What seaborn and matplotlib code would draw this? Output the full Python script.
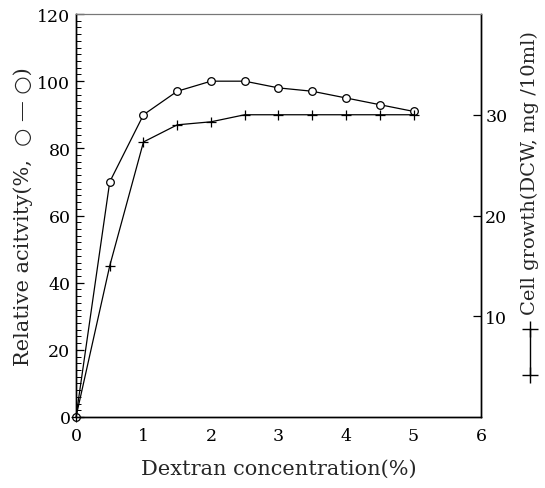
import numpy as np
import pandas as pd
import seaborn as sns
import matplotlib
matplotlib.use('Agg')
import matplotlib.pyplot as plt
from matplotlib.ticker import MultipleLocator

# podaci ocitani sa slike
dextran = [0, 0.5, 1, 1.5, 2, 2.5, 3, 3.5, 4, 4.5, 5]
activity = [0, 70, 90, 97, 100, 100, 98, 97, 95, 93, 91]
growth = [0, 15, 27.3, 29, 29.3, 30, 30, 30, 30, 30, 30]

sns.set_style("white")
plt.rcParams['font.family'] = ['DejaVu Serif', 'DejaVu Sans']
plt.rcParams['mathtext.fontset'] = 'dejavuserif'

df = pd.DataFrame({'dextran': dextran, 'activity': activity, 'growth': growth})

fig = plt.figure(figsize=(5.45, 4.89), dpi=100)
ax = fig.add_axes([0.1394, 0.1452, 0.7432, 0.8241])

sns.lineplot(data=df, x='dextran', y='activity', ax=ax, color='black', lw=0.9,
             marker='o', markersize=5.5, markerfacecolor='white', markeredgecolor='black',
             markeredgewidth=0.9, clip_on=False, zorder=3)

ax2 = ax.twinx()
sns.lineplot(data=df, x='dextran', y='growth', ax=ax2, color='black', lw=0.9,
             marker='+', markersize=7, markeredgecolor='black', markeredgewidth=0.9,
             clip_on=False, zorder=3)

ax.set_xlim(0, 6)
ax.set_ylim(0, 120)
ax2.set_ylim(0, 40)

ax.xaxis.set_major_locator(MultipleLocator(1))
ax.xaxis.set_minor_locator(MultipleLocator(0.1))
ax.yaxis.set_major_locator(MultipleLocator(20))
ax.yaxis.set_minor_locator(MultipleLocator(2))
ax2.set_yticks([10, 20, 30])

ax.tick_params(axis='both', which='major', direction='in', length=6, width=0.9,
               labelsize=12.5, colors='black', pad=4)
ax.tick_params(axis='both', which='minor', direction='in', length=3.5, width=0.7, colors='black')
ax.tick_params(axis='x', which='major', pad=7)
ax2.tick_params(axis='y', which='major', direction='in', length=6, width=0.9,
                labelsize=12.5, colors='black', pad=3)

for a in (ax, ax2):
    for side in ['left', 'bottom', 'right']:
        a.spines[side].set_color('black')
        a.spines[side].set_linewidth(1.0)
    a.spines['top'].set_color('#777777')
    a.spines['top'].set_linewidth(0.8)

ax.set_xlabel('Dextran concentration(%)', fontsize=15, labelpad=11)
ax.set_ylabel('Relative acitvity(%,  ○ — ○)', fontsize=15, labelpad=3)
ax2.set_ylabel('')

fig.text(0.972, 0.646, 'Cell growth(DCW, mg /10ml)', rotation=90, fontsize=14,
         ha='center', va='center')
# oznaka +—+ ispod natpisa desne ose
ax2.plot([1.121, 1.121], [0.105, 0.218], transform=ax.transAxes, color='black', lw=1.0,
         marker='+', markersize=12, markeredgewidth=1.0, clip_on=False)

fig.savefig('out.png', dpi=100)
